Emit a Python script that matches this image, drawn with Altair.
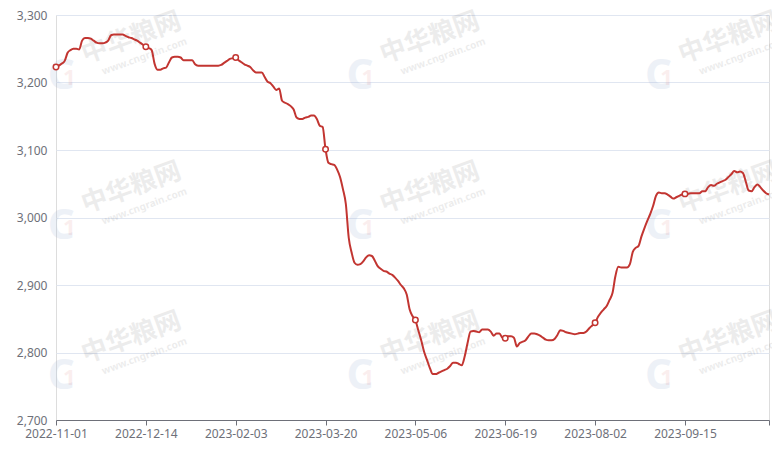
import altair as alt
import pandas as pd

# x-axis labels, one every 31 trading days
tick_labels = ["2022-11-01", "2022-12-14", "2023-02-03", "2023-03-20",
               "2023-05-06", "2023-06-19", "2023-08-02", "2023-09-15"]
label_step = 31

# daily price (yuan/ton)
prices = [
    3223, 3225, 3228, 3232, 3244, 3248, 3250, 3250, 3249, 3262,
    3266, 3266, 3265, 3262, 3259, 3258, 3258, 3259, 3262, 3270,
    3271, 3271, 3271, 3271, 3269, 3267, 3266, 3264, 3262, 3259,
    3256, 3253, 3251, 3248, 3228, 3219, 3219, 3221, 3222, 3230,
    3237, 3238, 3238, 3237, 3233, 3233, 3233, 3233, 3227, 3225,
    3225, 3225, 3225, 3225, 3225, 3225, 3225, 3226, 3229, 3232,
    3235, 3236, 3237, 3233, 3230, 3227, 3225, 3223, 3218, 3215,
    3215, 3215, 3208, 3201, 3199, 3194, 3189, 3191, 3173, 3170,
    3168, 3165, 3160, 3148, 3146, 3146, 3148, 3149, 3151, 3151,
    3146, 3136, 3134, 3101, 3081, 3079, 3078, 3071, 3060, 3042,
    3020, 2970, 2948, 2933, 2930, 2931, 2935, 2941, 2944, 2943,
    2936, 2928, 2924, 2921, 2920, 2917, 2915, 2911, 2906, 2900,
    2895, 2886, 2864, 2854, 2848, 2833, 2818, 2801, 2789, 2777,
    2768, 2768, 2770, 2772, 2774, 2776, 2780, 2785, 2785, 2783,
    2781, 2794, 2814, 2831, 2832, 2831, 2830, 2834, 2834, 2834,
    2831, 2825, 2828, 2828, 2822, 2821, 2824, 2824, 2822, 2809,
    2814, 2816, 2818, 2824, 2828, 2828, 2827, 2825, 2822, 2819,
    2818, 2818, 2820, 2826, 2833, 2832, 2830, 2829, 2828, 2827,
    2828, 2829, 2829, 2831, 2836, 2840, 2844, 2853, 2859, 2864,
    2869, 2878, 2888, 2913, 2927, 2926, 2926, 2926, 2931, 2949,
    2955, 2958, 2972, 2984, 2995, 3005, 3017, 3032, 3037, 3036,
    3036, 3034, 3031, 3028, 3030, 3032, 3034, 3035, 3035, 3036,
    3036, 3036, 3036, 3039, 3039, 3045, 3048, 3047, 3050, 3052,
    3054, 3056, 3060, 3064, 3069, 3067, 3068, 3066, 3053, 3040,
    3039, 3045, 3049, 3045, 3040, 3036, 3034,
]
y_ticks = [2700, 2800, 2900, 3000, 3100, 3200, 3300]

# watermark anchors in data units (index, price)
wm_idx = [26, 129, 232]
wm_price = [3266, 3044, 2822]
wm_text = "中华粮网"
wm_sub = "www.cngrain.com"

n = len(prices)
df = pd.DataFrame({"i": list(range(n)), "price": prices})
marks_df = df[df["i"] % label_step == 0]

wm_rows = []
for wi in wm_idx:
    for wp in wm_price:
        wm_rows.append({"i": wi, "price": wp})
wm_df = pd.DataFrame(wm_rows)

arr = "[" + ",".join(f"'{d}'" for d in tick_labels) + "]"
label_expr = f"datum.value % {label_step} == 0 ? {arr}[datum.value / {label_step}] : ''"

GRAY = "#6e7079"
RED = "#c23531"
FONT = "Noto Sans"

x_enc = alt.X(
    "i:Q",
    scale=alt.Scale(domain=[0, n - 1], nice=False, zero=False),
    axis=alt.Axis(
        values=list(range(0, n, label_step)) + [n - 1],
        labelExpr=label_expr,
        title=None,
        grid=False,
        domainColor=GRAY,
        tickColor=GRAY,
        tickSize=5,
        labelColor=GRAY,
        labelFontSize=12,
        labelFont=FONT,
        labelPadding=3,
        labelFlush=False,
        labelOverlap=False,
    ),
)
y_enc = alt.Y(
    "price:Q",
    scale=alt.Scale(domain=[2700, 3300], nice=False, zero=False),
    axis=alt.Axis(
        values=y_ticks,
        format=",d",
        title=None,
        domain=False,
        ticks=False,
        gridColor="#e0e6f1",
        labelColor=GRAY,
        labelFontSize=12,
        labelFont=FONT,
        labelPadding=9,
    ),
)

wm_main = alt.Chart(wm_df).mark_text(
    text=wm_text, font="Noto Sans CJK SC", fontWeight="bold", fontSize=26,
    angle=340, color="#000000", opacity=0.07,
).encode(x=alt.X("i:Q"), y=alt.Y("price:Q"))

wm_small = alt.Chart(wm_df).mark_text(
    text=wm_sub, font="Noto Sans", fontWeight="bold", fontSize=10,
    angle=340, color="#000000", opacity=0.07, dx=6, dy=22,
).encode(x=alt.X("i:Q"), y=alt.Y("price:Q"))

wm_logo_c = alt.Chart(wm_df).mark_text(
    text="C", font="Noto Sans", fontWeight="bold", fontSize=42,
    color="#9fb4d6", opacity=0.18, dx=-70, dy=38,
).encode(x=alt.X("i:Q"), y=alt.Y("price:Q"))

wm_logo_1 = alt.Chart(wm_df).mark_text(
    text="1", font="Noto Sans", fontWeight="bold", fontSize=22,
    color="#e08080", opacity=0.13, dx=-62, dy=40,
).encode(x=alt.X("i:Q"), y=alt.Y("price:Q"))

line = alt.Chart(df).mark_line(
    color=RED, strokeWidth=2, interpolate="monotone"
).encode(x=x_enc, y=y_enc)

pts = alt.Chart(marks_df).mark_point(
    shape="circle", filled=True, fill="white", stroke=RED,
    strokeWidth=1.5, size=30, opacity=1,
).encode(x="i:Q", y="price:Q")

chart = alt.layer(wm_logo_c, wm_logo_1, wm_main, wm_small, line, pts).properties(
    width=713,
    height=405,
    autosize=alt.AutoSizeParams(type="none"),
    padding={"left": 48, "top": 7, "right": 3, "bottom": 20},
).configure_view(stroke="#e0e6f1").configure(background="white")

chart.save("out.html", embed_options={"renderer": "svg", "actions": False})
